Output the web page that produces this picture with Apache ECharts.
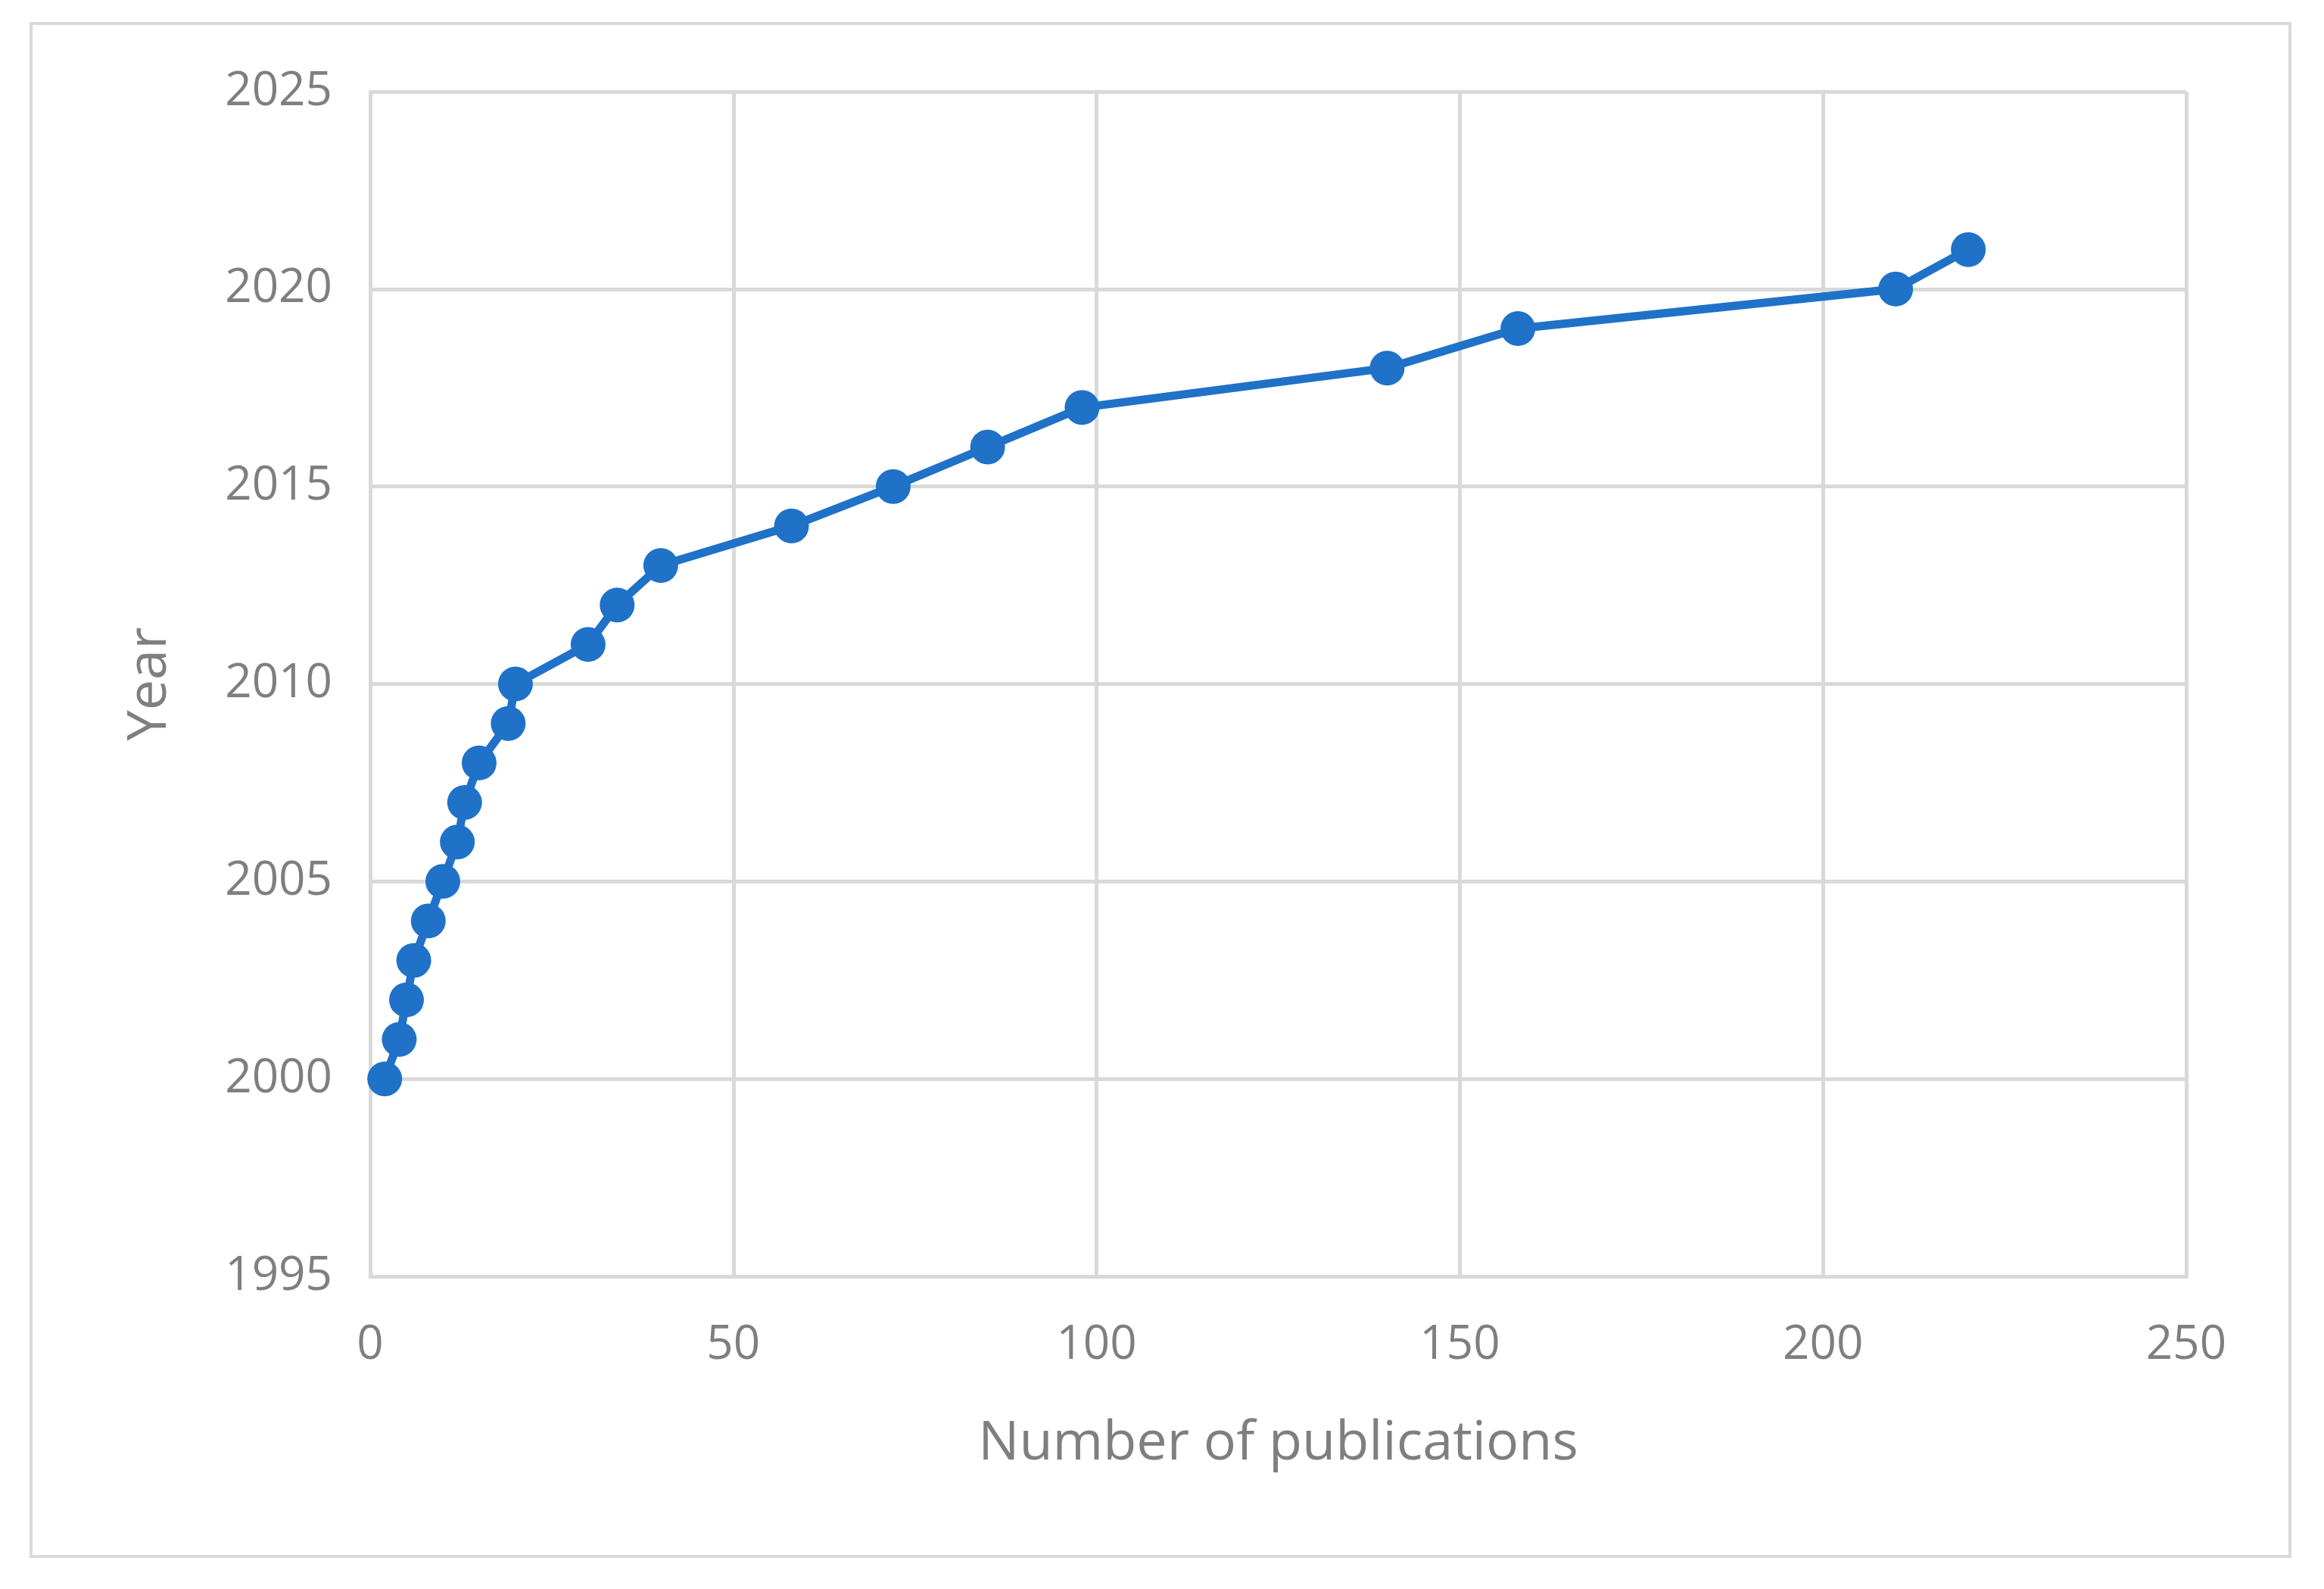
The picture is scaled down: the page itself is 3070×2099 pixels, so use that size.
<!DOCTYPE html>
<html>
<head>
<meta charset="utf-8">
<script src="https://cdn.jsdelivr.net/npm/echarts@6/dist/echarts.min.js"></script>
<style>
  html, body { margin: 0; padding: 0; background: #fff; }
  #frame { position: absolute; left: 39px; top: 29px; width: 2988px; height: 2029px; border: 4px solid #d9d9d9; box-sizing: border-box; }
  #chart { position: absolute; left: 0; top: 0; width: 3070px; height: 2099px; }
</style>
</head>
<body>
<div id="frame"></div>
<div id="chart"></div>
<script>
// publications per year
var years = [2000, 2001, 2002, 2003, 2004, 2005, 2006, 2007, 2008, 2009, 2010,
             2011, 2012, 2013, 2014, 2015, 2016, 2017, 2018, 2019, 2020, 2021];
var publications = [2, 4, 5, 6, 8, 10, 12, 13, 15, 19, 20,
                    30, 34, 40, 58, 72, 85, 98, 140, 158, 210, 220];

var points = years.map(function (y, i) { return [publications[i], y]; });

var grey = '#7f7f7f';
var gridColor = '#d9d9d9';

var myChart = echarts.init(document.getElementById('chart'));
var option = {
    animation: false,
    grid: { left: 489, right: 182, top: 121, bottom: 413 },
    xAxis: {
        type: 'value', min: 0, max: 250, interval: 50,
        name: 'Number of publications', nameLocation: 'middle', nameGap: 185,
        nameTextStyle: { color: grey, fontSize: 72, fontFamily: 'Open Sans' },
        axisLine: { show: true, lineStyle: { color: gridColor, width: 5 } },
        axisTick: { show: false },
        axisLabel: { color: grey, fontSize: 62, fontFamily: 'Open Sans', margin: 60 },
        splitLine: { lineStyle: { color: gridColor, width: 5 } }
    },
    yAxis: {
        type: 'value', min: 1995, max: 2025, interval: 5,
        name: 'Year', nameLocation: 'middle', nameGap: 255,
        nameTextStyle: { color: grey, fontSize: 72, fontFamily: 'Open Sans' },
        axisLine: { show: true, lineStyle: { color: gridColor, width: 5 } },
        axisTick: { show: false },
        axisLabel: { color: grey, fontSize: 62, fontFamily: 'Open Sans', margin: 50,
                     formatter: function (v) { return String(v); } },
        splitLine: { lineStyle: { color: gridColor, width: 5 } }
    },
    series: [{
        type: 'line',
        data: points,
        symbol: 'circle', symbolSize: 46,
        lineStyle: { color: '#1f72c8', width: 11 },
        itemStyle: { color: '#1f72c8' }
    }]
};
myChart.setOption(option, true);
</script>
</body>
</html>
